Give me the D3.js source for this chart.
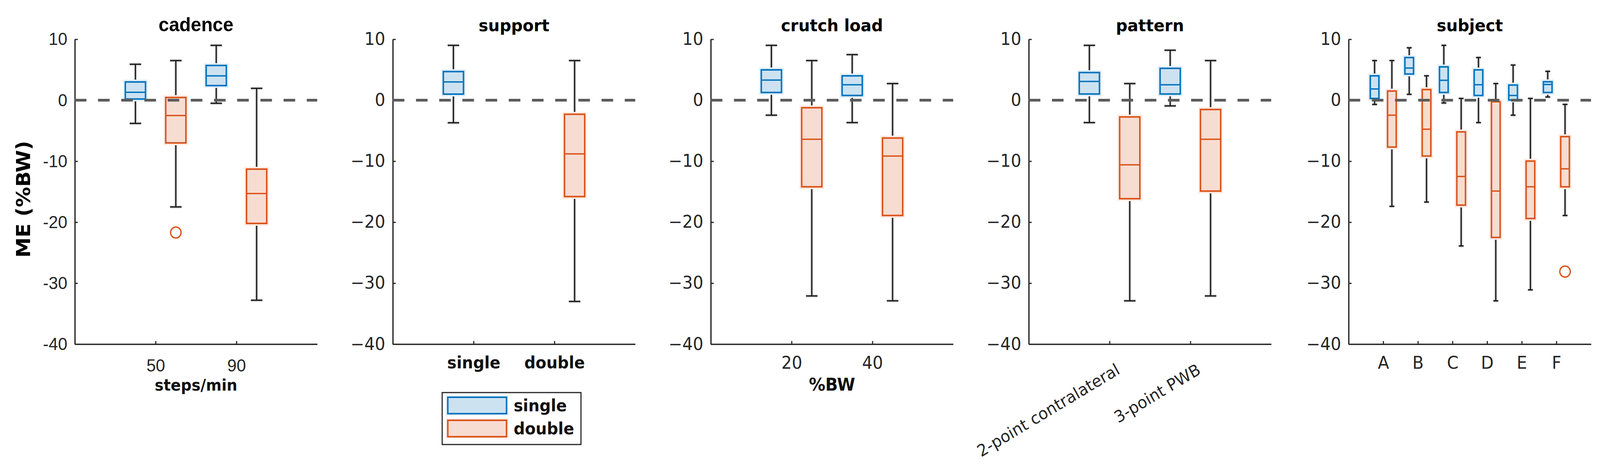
<!DOCTYPE html>
<html><head><meta charset="utf-8">
<script src="https://cdn.jsdelivr.net/npm/d3@7"></script>
<style>html,body{margin:0;padding:0;background:#fff;overflow:hidden}svg{display:block;width:100vw;height:100vh}</style>
</head><body><svg id="c" viewBox="0 0 4277 1193" preserveAspectRatio="none"></svg>
<script>
// ---------------- data ----------------
const yTicks = [10, 0, -10, -20, -30, -40];
const seriesNames = ["single", "double"];

// each box: [lower whisker, Q1, median, Q3, upper whisker]
const cadenceCats = ["50", "90"];
const cadenceSingle = [[-3.8, 0.2, 1.3, 3.0, 5.9], [-0.5, 2.4, 4.0, 5.7, 9.0]];
const cadenceDouble = [[-17.5, -7.0, -2.5, 0.45, 6.5], [-32.8, -20.2, -15.3, -11.3, 1.95]];
const cadenceDoubleOut = [[-21.7], []];

const supportCats = ["single", "double"];
const supportSingle = [[-3.7, 1.0, 3.0, 4.7, 9.0], null];
const supportDouble = [null, [-33.0, -15.8, -8.8, -2.3, 6.5]];

const crutchCats = ["20", "40"];
const crutchSingle = [[-2.45, 1.27, 3.3, 4.98, 9.0], [-3.67, 0.78, 2.54, 4.0, 7.48]];
const crutchDouble = [[-32.1, -14.2, -6.4, -1.23, 6.5], [-32.9, -18.9, -9.15, -6.2, 2.73]];

const patternCats = ["2-point contralateral", "3-point PWB"];
const patternSingle = [[-3.67, 1.02, 3.08, 4.54, 9.0], [-0.93, 1.02, 2.54, 5.23, 8.2]];
const patternDouble = [[-32.9, -16.15, -10.6, -2.74, 2.73], [-32.1, -14.9, -6.4, -1.52, 6.5]];

const subjectCats = ["A", "B", "C", "D", "E", "F"];
const subjectSingle = [[-0.69, 0.29, 1.85, 4.0, 6.5], [0.97, 4.3, 5.28, 7.0, 8.6], [-0.45, 1.27, 3.27, 5.47, 9.0],
                       [-3.67, 0.78, 2.54, 4.98, 7.0], [-2.45, 0.04, 0.78, 2.49, 5.77], [0.53, 1.27, 2.58, 3.03, 4.74]];
const subjectDouble = [[-17.4, -7.68, -2.45, 1.51, 6.5], [-16.7, -9.15, -4.75, 1.75, 4.0], [-23.9, -17.2, -12.5, -5.19, 0.29],
                       [-32.9, -22.5, -14.9, -0.25, 2.73], [-31.1, -19.4, -14.2, -9.98, 0.29], [-18.9, -14.2, -11.25, -5.97, -0.69]];
const subjectDoubleOut = [[], [], [], [], [], [-28.1]];

// ---------------- style / layout ----------------
const BLUE = "#0072BD", BLUE_FILL = "#cce2f1", BLUE_HALO = "#e3eff8";
const RED = "#D95319", RED_FILL = "#f7dcd1", RED_HALO = "#fbebe4";
const AX = "#262626";
const TOP = 100.5, BOT = 881, PW = 648;

const panels = [
  {left: 200, title: "cadence", cats: cadenceCats, single: cadenceSingle, double: cadenceDouble, out: cadenceDoubleOut,
   xlabel: "steps/min", narrow: true},
  {left: 1050, title: "support", cats: supportCats, single: supportSingle, double: supportDouble, boldTicks: true},
  {left: 1900, title: "crutch load", cats: crutchCats, single: crutchSingle, double: crutchDouble, xlabel: "%BW"},
  {left: 2750, title: "pattern", cats: patternCats, single: patternSingle, double: patternDouble, rotate: true},
  {left: 3605, title: "subject", cats: subjectCats, single: subjectSingle, double: subjectDouble, out: subjectDoubleOut}
];

const svg = d3.select("#c");
const y = d3.scaleLinear().domain([-40, 10]).range([BOT, TOP]);

panels.forEach((p, pi) => {
  const n = p.cats.length;
  const x = d3.scaleLinear().domain([0, n + 1]).range([p.left, p.left + PW]);
  const g = svg.append("g");
  const tickFont = p.narrow ? "Liberation Sans, Arial, sans-serif" : "DejaVu Sans, sans-serif";

  // y axis
  const ya = d3.axisLeft(y).tickValues(yTicks).tickSizeInner(-8).tickSizeOuter(0).tickPadding(20)
    .tickFormat(v => p.narrow ? String(v) : String(v).replace("-", "\u2212"));
  const yg = g.append("g").attr("transform", `translate(${p.left},0)`).call(ya);
  yg.selectAll("text").attr("font-family", tickFont).attr("font-size", p.narrow ? 45 : 44).attr("fill", AX);

  // x axis
  const xa = d3.axisBottom(x).tickValues(d3.range(1, n + 1)).tickFormat((d, i) => p.cats[i])
    .tickSizeInner(-8).tickSizeOuter(0).tickPadding(p.narrow ? 38 : 32);
  const xg = g.append("g").attr("transform", `translate(0,${BOT})`).call(xa);
  xg.selectAll("text").attr("font-family", tickFont).attr("font-size", p.narrow ? 45 : 44).attr("fill", AX);
  if (p.boldTicks) xg.selectAll("text").attr("font-weight", "bold").attr("font-size", 42).attr("fill", "#111");
  if (p.rotate) {
    xg.selectAll("text").attr("text-anchor", "end").attr("y", 0).attr("dy", 0)
      .attr("font-size", 42)
      .attr("transform", "translate(30,74) rotate(-30)");
  }
  [yg, xg].forEach(a => {
    a.select(".domain").attr("stroke", AX).attr("stroke-width", 3.5);
    a.selectAll(".tick line").attr("stroke", AX).attr("stroke-width", 3);
  });

  // boxes
  const hw = (x(0.125) - x(0));
  const cap = hw * 0.57;
  const drawBox = (s, cx, col, fill, halo) => {
    if (!s) return;
    const [lo, q1, md, q3, hi] = s;
    [[hi, q3], [q1, lo]].forEach(([a, b]) => {
      g.append("line").attr("x1", cx).attr("x2", cx).attr("y1", y(a)).attr("y2", y(b))
        .attr("stroke", "#e6e6e6").attr("stroke-width", 10);
    });
    [hi, lo].forEach(v => g.append("line").attr("x1", cx - cap).attr("x2", cx + cap).attr("y1", y(v)).attr("y2", y(v))
      .attr("stroke", "#e6e6e6").attr("stroke-width", 10));
    [[hi, q3], [q1, lo]].forEach(([a, b]) => {
      g.append("line").attr("x1", cx).attr("x2", cx).attr("y1", y(a)).attr("y2", y(b))
        .attr("stroke", "#1a1a1a").attr("stroke-width", 3.5);
    });
    [hi, lo].forEach(v => g.append("line").attr("x1", cx - cap).attr("x2", cx + cap).attr("y1", y(v)).attr("y2", y(v))
      .attr("stroke", "#1a1a1a").attr("stroke-width", 3.5));
    g.append("rect").attr("x", cx - hw).attr("y", y(q3)).attr("width", 2 * hw).attr("height", y(q1) - y(q3))
      .attr("fill", "none").attr("stroke", halo).attr("stroke-width", 12);
    g.append("rect").attr("x", cx - hw).attr("y", y(q3)).attr("width", 2 * hw).attr("height", y(q1) - y(q3))
      .attr("fill", fill).attr("stroke", col).attr("stroke-width", 4);
    g.append("line").attr("x1", cx - hw).attr("x2", cx + hw).attr("y1", y(md)).attr("y2", y(md))
      .attr("stroke", col).attr("stroke-width", 3.5);
  };
  p.cats.forEach((c, i) => {
    drawBox(p.single[i], x(i + 1 - 0.25), BLUE, BLUE_FILL, BLUE_HALO);
    drawBox(p.double[i], x(i + 1 + 0.25), RED, RED_FILL, RED_HALO);
    if (p.out) p.out[i].forEach(v => g.append("circle").attr("cx", x(i + 1 + 0.25)).attr("cy", y(v)).attr("r", 14)
      .attr("fill", "none").attr("stroke", RED).attr("stroke-width", 3.5));
  });

  // zero dashed line on top
  g.append("line").attr("x1", x(0)).attr("x2", x(n + 1)).attr("y1", y(0)).attr("y2", y(0))
    .attr("stroke", "#5c5c5c").attr("stroke-width", 7).attr("stroke-dasharray", "31 31");

  // title
  g.append("text").attr("x", p.left + PW / 2).attr("y", 80).attr("text-anchor", "middle")
    .attr("font-family", p.narrow ? "Liberation Sans, Arial, sans-serif" : "DejaVu Sans, sans-serif")
    .attr("font-weight", "bold").attr("font-size", p.narrow ? 50 : 43).attr("fill", "#000").text(p.title);

  if (p.xlabel) {
    g.append("text").attr("x", p.left + PW / 2).attr("y", 1000).attr("text-anchor", "middle")
      .attr("font-family", "DejaVu Sans, sans-serif").attr("font-weight", "bold")
      .attr("font-size", p.narrow ? 40 : 44).attr("fill", "#111").text(p.xlabel);
  }
});

// y label
svg.append("text").attr("transform", "translate(80,510) rotate(-90)").attr("text-anchor", "middle")
  .attr("font-family", "DejaVu Sans, sans-serif").attr("font-weight", "bold").attr("font-size", 52)
  .attr("fill", "#000").text("ME (%BW)");

// legend
const lg = svg.append("g");
lg.append("rect").attr("x", 1182).attr("y", 1005).attr("width", 371).attr("height", 133)
  .attr("fill", "#fff").attr("stroke", AX).attr("stroke-width", 3);
const legCols = [[BLUE, BLUE_FILL, BLUE_HALO], [RED, RED_FILL, RED_HALO]];
seriesNames.forEach((s, i) => {
  const yy = 1017 + i * 59;
  lg.append("rect").attr("x", 1197).attr("y", yy).attr("width", 157).attr("height", 42)
    .attr("fill", "none").attr("stroke", legCols[i][2]).attr("stroke-width", 10);
  lg.append("rect").attr("x", 1197).attr("y", yy).attr("width", 157).attr("height", 42)
    .attr("fill", legCols[i][1]).attr("stroke", legCols[i][0]).attr("stroke-width", 4);
  lg.append("text").attr("x", 1373).attr("y", yy + 36).attr("font-family", "DejaVu Sans, sans-serif")
    .attr("font-weight", "bold").attr("font-size", 42).attr("fill", "#111").text(s);
});
</script></body></html>
